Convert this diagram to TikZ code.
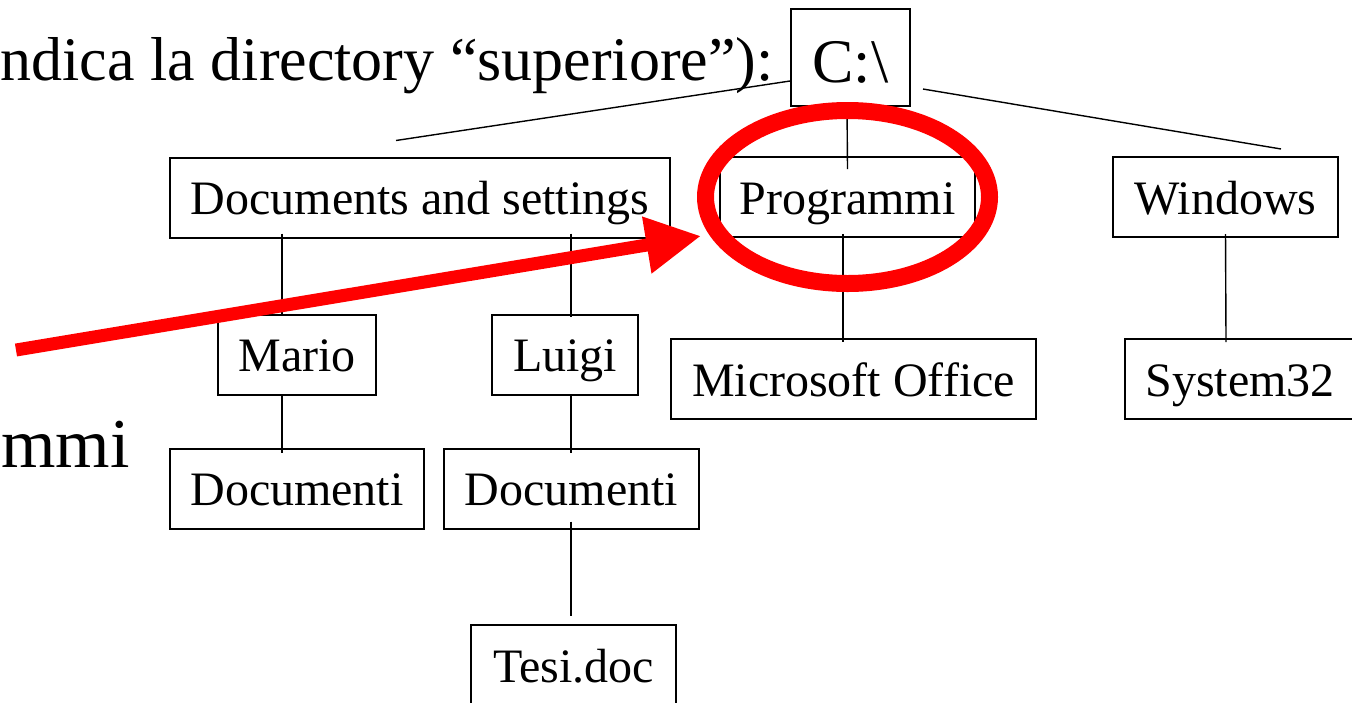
\documentclass[tikz,border=0pt]{standalone}
\usepackage{fontspec}
\setmainfont{Liberation Serif}
\usetikzlibrary{arrows.meta}
\begin{document}
\begin{tikzpicture}[x=0.5pt,y=-0.5pt,
  box/.style={draw, line width=1pt, inner sep=0pt, font=\fontsize{24}{28}\selectfont,
              text height=22pt, text depth=5pt, minimum height=40pt},
  link/.style={line width=0.7pt},
  big/.style={font=\fontsize{31}{36}\selectfont, inner sep=0pt},
  hlarrow/.style={red, line width=6.5pt, -{Triangle[length=27.5pt,width=27pt]}},
  hlring/.style={red, line width=8.5pt},
]
\useasboundingbox (0,0) rectangle (1352,702);
\clip (0,0) rectangle (1352,702);

% nodes
\node[box, minimum width=59.5pt, minimum height=48.5pt, font=\fontsize{31}{36}\selectfont,
      text height=28pt, text depth=3.5pt] (root) at (850.5,57.5) {C:\textbackslash};
\node[box, minimum width=250pt]   (docs)  at (420,197.5)  {Documents and settings};
\node[box, minimum width=127.5pt] (prog)  at (847.5,197)  {Programmi};
\node[box, minimum width=112.5pt] (win)   at (1225.5,197) {Windows};
\node[box, minimum width=79pt]    (mario) at (297,354.5)  {Mario};
\node[box, minimum width=73pt]    (luigi) at (565,354.5)  {Luigi};
\node[box, minimum width=182.5pt] (msoff) at (853.5,379)  {Microsoft Office};
\node[box, minimum width=115pt]   (sys)   at (1240,379)   {System32};
\node[box, minimum width=127pt]   (doca)  at (297,488.5)  {Documenti};
\node[box, minimum width=127.5pt] (docb)  at (571.5,488.5){Documenti};
\node[box, minimum width=102.5pt] (tesi)  at (573.5,665)  {Tesi.doc};

\node[big, anchor=base east] (title) at (774,80) {ndica la directory “superiore”):};
\node[big, font=\fontsize{35}{40}\selectfont, anchor=base east] (mmi) at (130,467) {mmi};

% connectors
\draw[link] ([yshift=-11.75pt]root.west) -- ([xshift=-12pt,yshift=8pt]docs.north);
\draw[link] ([xshift=6pt,yshift=-15.75pt]root.east) -- ([xshift=27.75pt,yshift=3.5pt]win.north);
\draw[link] ([xshift=-1.75pt]root.south) -- ([yshift=-6.5pt]prog.north);
\draw[link] ([xshift=-69pt,yshift=2.5pt]docs.south) -- ([xshift=-7.5pt,yshift=-1pt]mario.north);
\draw[link] ([xshift=75.5pt,yshift=2.5pt]docs.south) -- ([xshift=3pt,yshift=-1.5pt]luigi.north);
\draw[link] ([xshift=-7.5pt,yshift=0.5pt]mario.south) -- ([xshift=-7.5pt,yshift=-2.5pt]doca.north);
\draw[link] ([xshift=3pt,yshift=0.5pt]luigi.south) -- ([xshift=-0.25pt,yshift=-2.5pt]docb.north);
\draw[link] ([xshift=-0.25pt,yshift=4pt]docb.south) -- ([xshift=-1.25pt,yshift=4pt]tesi.north);
\draw[link] ([xshift=-2.25pt,yshift=2pt]prog.south) -- ([xshift=-5.25pt,yshift=-2pt]msoff.north);
\draw[link] ([yshift=2pt]win.south) -- ([xshift=-7pt,yshift=-2pt]sys.north);

% red highlight
\coordinate (tail) at (16,350);
\draw[hlarrow] (tail) -- ([xshift=-9pt,yshift=-19.5pt]prog.west);
\draw[hlring] (prog.center) ellipse [x radius=71pt, y radius=43.25pt];
\end{tikzpicture}
\end{document}
